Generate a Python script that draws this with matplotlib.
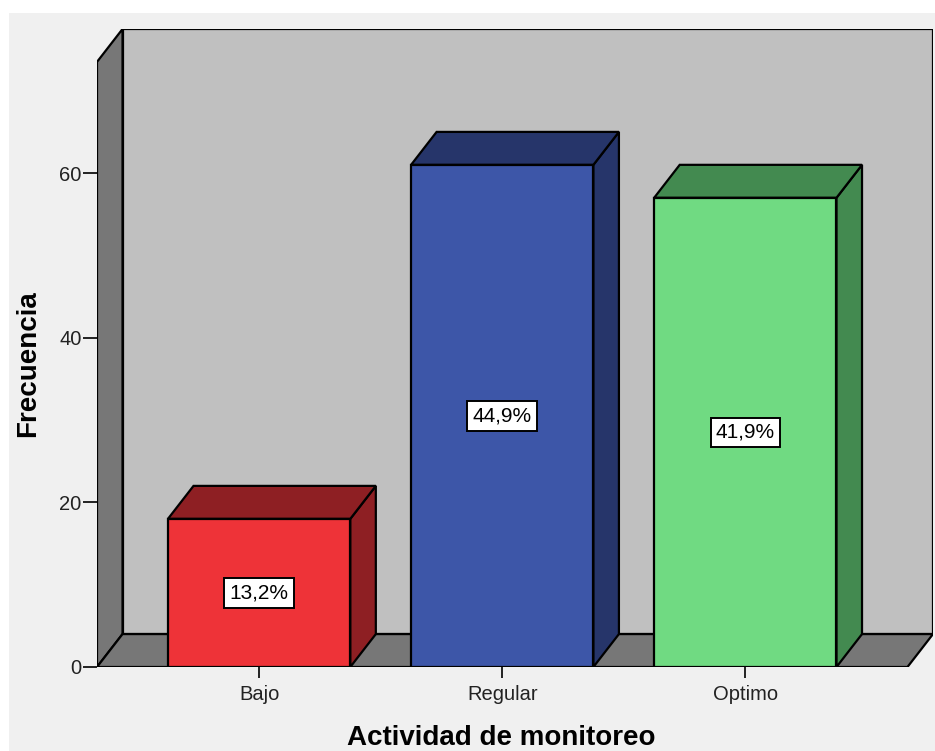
import matplotlib.pyplot as plt
from matplotlib.patches import Polygon, Rectangle

# data
categorias = ['Bajo', 'Regular', 'Optimo']
frecuencias = [18, 61, 57]
porcentajes = ['13,2%', '44,9%', '41,9%']
colores_frente = ['#EE3338', '#3D56A8', '#70DA82']
colores_lado = ['#8E1F23', '#26356A', '#438A50']
yticks = [0, 20, 40, 60]

# fake 3d geometry (data units)
x0, x1 = -0.667, 2.667
dx, dy = 0.105, 4.0
ytop = 73.5
ancho = 0.75

plt.rcParams['font.family'] = ['Liberation Sans', 'DejaVu Sans']

fig = plt.figure(figsize=(9.35, 7.51), dpi=100)
fig.patch.set_facecolor('white')
fig.patches.append(Rectangle((9 / 935, 0), 1, 1 - 13 / 751, transform=fig.transFigure,
                             facecolor='#F0F0F0', edgecolor='none', zorder=-10))

ax = fig.add_axes([97 / 935, 84 / 751, 836 / 935, 638 / 751])
ax.set_facecolor('none')
ax.set_xlim(x0, x1 + dx)
ax.set_ylim(0, ytop + dy)
for s in ax.spines.values():
    s.set_visible(False)

lw = 1.6
# back wall
ax.add_patch(Polygon([(x0 + dx, dy), (x1 + dx, dy), (x1 + dx, ytop + dy), (x0 + dx, ytop + dy)],
                     closed=True, facecolor='#C0C0C0', edgecolor='black', lw=lw, zorder=1))
# left wall
ax.add_patch(Polygon([(x0, 0), (x0 + dx, dy), (x0 + dx, ytop + dy), (x0, ytop)],
                     closed=True, facecolor='#777777', edgecolor='black', lw=lw, zorder=2))
# floor
ax.add_patch(Polygon([(x0, 0), (x1, 0), (x1 + dx, dy), (x0 + dx, dy)],
                     closed=True, facecolor='#777777', edgecolor='black', lw=lw, zorder=2))

for i, (v, cf, cl, p) in enumerate(zip(frecuencias, colores_frente, colores_lado, porcentajes)):
    a, b = i - ancho / 2, i + ancho / 2
    ax.add_patch(Polygon([(b, 0), (b + dx, dy), (b + dx, v + dy), (b, v)],
                         closed=True, facecolor=cl, edgecolor='black', lw=lw, zorder=3))
    ax.add_patch(Polygon([(a, v), (b, v), (b + dx, v + dy), (a + dx, v + dy)],
                         closed=True, facecolor=cl, edgecolor='black', lw=lw, zorder=3))
    ax.add_patch(Rectangle((a, 0), ancho, v, facecolor=cf, edgecolor='black', lw=lw, zorder=4))
    ax.text(i, v / 2, p, ha='center', va='center', fontsize=15, zorder=5,
            bbox=dict(boxstyle='square,pad=0.25', facecolor='white', edgecolor='black', lw=1.4))

ax.set_xticks(range(len(categorias)))
ax.set_xticklabels(categorias)
ax.set_yticks(yticks)
ax.tick_params(axis='x', length=8, width=1.4, labelsize=14.5, pad=5, colors='#222222')
ax.tick_params(axis='y', length=10, width=1.4, labelsize=14.5, pad=1, colors='#222222')

ax.set_xlabel('Actividad de monitoreo', fontsize=20, fontweight='bold', va='center')
ax.xaxis.set_label_coords(0.484, -0.111)
ax.set_ylabel('Frecuencia', fontsize=20, fontweight='bold', va='center')
ax.yaxis.set_label_coords(-0.0825, 0.475)

fig.savefig('out.png', dpi=100)
